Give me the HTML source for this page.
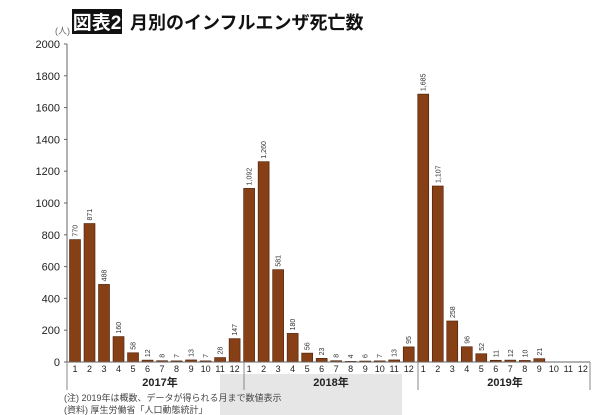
<!DOCTYPE html>
<html><head><meta charset="utf-8"><style>
body{margin:0;background:#fff;width:600px;height:415px;overflow:hidden}
svg{display:block;font-family:"Liberation Sans","Noto Sans CJK JP",sans-serif}
</style></head><body>
<svg id="s" width="600" height="415" xmlns="http://www.w3.org/2000/svg">
<rect x="220" y="374" width="182" height="41" fill="#e6e6e6"/>
<rect x="72" y="9" width="50" height="25" fill="#111"/>
<text x="97" y="29" font-size="19" font-weight="bold" fill="#fff" text-anchor="middle">図表2</text>
<text x="130" y="29" font-size="18" font-weight="bold" fill="#111">月別のインフルエンザ死亡数</text>
<text x="55" y="34" font-size="9" fill="#666">(人)</text>
<line x1="67" y1="44" x2="67" y2="362" stroke="#666" stroke-width="1"/>
<g id="g"></g>
<text x="160" y="386" font-size="11" font-weight="bold" fill="#222" text-anchor="middle">2017年</text>
<text x="331" y="386" font-size="11" font-weight="bold" fill="#222" text-anchor="middle">2018年</text>
<text x="505" y="386" font-size="11" font-weight="bold" fill="#222" text-anchor="middle">2019年</text>
<text x="64" y="401" font-size="9" fill="#444">(注) 2019年は概数、データが得られる月まで数値表示</text>
<text x="64" y="413" font-size="9" fill="#444">(資料) 厚生労働省「人口動態統計」</text>
</svg>
<script>
(function(){
var g=document.getElementById('g'),h='';
for(var v=0;v<=2000;v+=200){var y=362-v*0.159;h+='<line x1="64" y1="'+y+'" x2="67" y2="'+y+'" stroke="#666"/><text x="60" y="'+(y+4)+'" font-size="11" fill="#222" text-anchor="end">'+v+'</text>';}
var d=[770,871,488,160,58,12,8,7,13,7,28,147,1092,1260,581,180,56,23,8,4,6,7,13,95,1685,1107,258,96,52,11,12,10,21,null,null,null];
for(var i=0;i<36;i++){var cx=75+i*14.51;var m=i%12+1;
h+='<text x="'+cx+'" y="372" font-size="9" fill="#222" text-anchor="middle">'+m+'</text>';
if(d[i]!=null){var bh=d[i]*0.159,ty=362-bh;h+='<rect x="'+(cx-5.5)+'" y="'+ty+'" width="11" height="'+bh+'" fill="#873f15" stroke="#4a1d05" stroke-width="0.6"/>';
var t=d[i]>=1000?d[i].toString().replace(/(\d)(\d{3})$/,'$1,$2'):d[i];
h+='<text transform="translate('+(cx+2.5)+','+(ty-3)+') rotate(-90)" font-size="7" fill="#333">'+t+'</text>';}}
h+='<line x1="67" y1="362" x2="590" y2="362" stroke="#666"/>';
[67,244,418,590].forEach(function(x){h+='<line x1="'+x+'" y1="362" x2="'+x+'" y2="390" stroke="#888"/>';});
g.innerHTML=h;
})();
</script>
</body></html>
